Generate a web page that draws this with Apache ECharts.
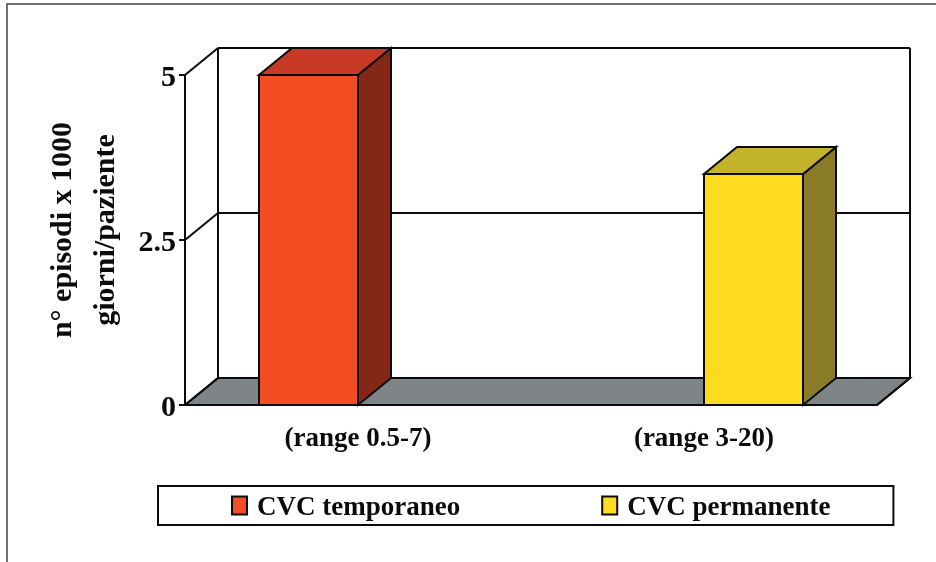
<!DOCTYPE html>
<html>
<head>
<meta charset="utf-8">
<style>html,body{margin:0;padding:0;background:#fff}#c{width:936px;height:562px}</style>
<script src="https://cdn.jsdelivr.net/npm/echarts@6/dist/echarts.min.js"></script>
</head>
<body>
<div id="c"></div>
<script>
const categories = ['(range 0.5-7)', '(range 3-20)'];
const seriesNames = ['CVC temporaneo', 'CVC permanente'];
const temporaneo = [5, null];
const permanente = [null, 3.5];
const yTicks = [0, 2.5, 5];

const SERIF = '"Liberation Serif", serif';
const DX = 33, DY = -27, BAR_W = 99;
const INK = '#0b0b0b';
const stroke = {stroke: INK, lineWidth: 2, lineJoin: 'miter'};

function shaded(points, fill) {
  return {type: 'polygon', shape: {points}, style: Object.assign({fill}, stroke)};
}
function seg(x1, y1, x2, y2) {
  return {type: 'line', shape: {x1, y1, x2, y2}, style: {stroke: INK, lineWidth: 2}};
}

function renderFrame(params, api) {
  const half = api.size([1, 0])[0] / 2;
  const l = api.coord([0, 0])[0] - half;
  const r = api.coord([1, 0])[0] + half;
  const y0 = api.coord([0, 0])[1];
  const children = [
    shaded([[l, y0], [r, y0], [r + DX, y0 + DY], [l + DX, y0 + DY]], '#7f8486')
  ];
  yTicks.forEach(t => {
    const y = api.coord([0, t])[1];
    children.push(seg(l, y, l + DX, y + DY));
    children.push(seg(l + DX, y + DY, r + DX, y + DY));
  });
  const yTop = api.coord([0, yTicks[yTicks.length - 1]])[1];
  children.push(seg(l + DX, yTop + DY, l + DX, y0 + DY));
  children.push(seg(r + DX, yTop + DY, r + DX, y0 + DY));
  children.push(seg(r, y0, r + DX, y0 + DY));
  return {type: 'group', children};
}

function makeBarRenderer(side, front, top, right) {
  return function (params, api) {
    const v = api.value(1);
    if (v == null || isNaN(v)) return null;
    const cat = api.value(0);
    const c = api.coord([cat, v]);
    const y0 = api.coord([cat, 0])[1];
    const x1 = side < 0 ? c[0] - BAR_W : c[0];
    const x2 = x1 + BAR_W;
    const y1 = c[1];
    return {type: 'group', children: [
      shaded([[x2, y0], [x2 + DX, y0 + DY], [x2 + DX, y1 + DY], [x2, y1]], right),
      shaded([[x1, y1], [x2, y1], [x2 + DX, y1 + DY], [x1 + DX, y1 + DY]], top),
      shaded([[x1, y0], [x2, y0], [x2, y1], [x1, y1]], front)
    ]};
  };
}

const toData = arr => arr.map((v, i) => [i, v]);

const chart = echarts.init(document.getElementById('c'), null, {renderer: 'canvas'});
chart.setOption({
  animation: false,
  backgroundColor: '#ffffff',
  graphic: [{
    type: 'rect', silent: true,
    shape: {x: 7, y: 4, width: 1000, height: 700},
    style: {fill: 'none', stroke: '#444', lineWidth: 1.5}
  }],
  grid: {left: 185, right: 59, top: 75, bottom: 157},
  legend: {
    data: seriesNames,
    left: 158, top: 486,
    padding: [3, 63, 3, 73],
    itemGap: 141,
    itemWidth: 15, itemHeight: 18,
    icon: 'rect',
    backgroundColor: '#fff',
    borderColor: INK, borderWidth: 2,
    formatter: name => '{t|' + name + '}',
    textStyle: {
      rich: {t: {fontFamily: SERIF, fontWeight: 'bold', fontSize: 27, color: INK, lineHeight: 19, padding: [6, 0, 0, 5]}}
    }
  },
  xAxis: {
    type: 'category', data: categories,
    axisLine: {lineStyle: {color: INK, width: 2}},
    axisTick: {alignWithLabel: false, length: 6, lineStyle: {color: INK, width: 2}},
    axisLabel: {fontFamily: SERIF, fontWeight: 'bold', fontSize: 27, color: INK, margin: 21},
    splitLine: {show: false}
  },
  yAxis: {
    type: 'value', min: 0, max: 5, interval: 2.5,
    name: 'n° episodi x 1000\ngiorni/paziente',
    nameLocation: 'middle', nameRotate: 90, nameGap: 54,
    nameTextStyle: {fontFamily: SERIF, fontWeight: 'bold', fontSize: 30, color: INK, lineHeight: 43, padding: [0, 0, 0, 20]},
    axisLine: {show: true, lineStyle: {color: INK, width: 2}},
    axisTick: {show: true, length: 6, lineStyle: {color: INK, width: 2}},
    axisLabel: {
      fontFamily: SERIF, fontWeight: 'bold', fontSize: 30, color: INK, margin: 9,
      verticalAlign: 'top', lineHeight: 7,
      formatter: v => String(v)
    },
    splitLine: {show: false}
  },
  series: [
    {
      name: 'frame', type: 'custom', silent: true, z: 1,
      renderItem: renderFrame, data: [[0, 0]], encode: {x: 0, y: 1}, clip: false
    },
    {
      name: seriesNames[0], type: 'custom', z: 2, clip: false,
      renderItem: makeBarRenderer(-1, '#f24d23', '#c63a26', '#852716'),
      itemStyle: {color: '#f24d23', borderColor: INK, borderWidth: 2},
      encode: {x: 0, y: 1}, data: toData(temporaneo)
    },
    {
      name: seriesNames[1], type: 'custom', z: 2, clip: false,
      renderItem: makeBarRenderer(1, '#ffdb1f', '#c4b42b', '#8a7b27'),
      itemStyle: {color: '#ffdb1f', borderColor: INK, borderWidth: 2},
      encode: {x: 0, y: 1}, data: toData(permanente)
    }
  ]
});
</script>
</body>
</html>
